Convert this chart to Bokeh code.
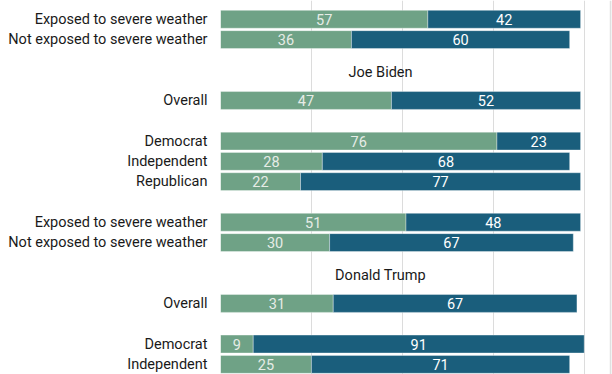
from bokeh.plotting import figure
from bokeh.models import ColumnDataSource, Range1d, FixedTicker, Span
from bokeh.core.properties import value
from bokeh.embed import file_html
from bokeh.resources import INLINE

# ---- data ----
row_labels = ["Exposed to severe weather", "Not exposed to severe weather",
              "Overall",
              "Democrat", "Independent", "Republican",
              "Exposed to severe weather", "Not exposed to severe weather",
              "Overall",
              "Democrat", "Independent"]
support = [57, 36, 47, 76, 28, 22, 51, 30, 31, 9, 25]
oppose = [42, 60, 52, 23, 68, 77, 48, 67, 67, 91, 71]
# group index of each row and whether a section header precedes the group
row_group = [0, 0, 1, 2, 2, 2, 3, 3, 4, 5, 5]
section_titles = ["Joe Biden", "Donald Trump"]
section_start_group = [1, 4]
grid_ticks = [0, 25, 50, 75, 100]

# ---- layout: slot for each row ----
slots = []
slot = 0
prev_g = row_group[0]
header_slots = []
for g in row_group:
    if g != prev_g:
        if g in section_start_group:
            slot += 2
            header_slots.append(slot - 1.4)
        else:
            slot += 1
        prev_g = g
    slots.append(slot)
    slot += 1

GREEN = "#6fa286"
BLUE = "#1a5e7c"

seg_src = ColumnDataSource(dict(
    y=slots + slots,
    left=[0] * len(support) + support,
    right=support + [s + o for s, o in zip(support, oppose)],
    color=[GREEN] * len(support) + [BLUE] * len(oppose),
))
lab_g = ColumnDataSource(dict(
    x=[s / 2 for s in support], y=slots, t=[str(v) for v in support]))
lab_b = ColumnDataSource(dict(
    x=[s + o / 2 for s, o in zip(support, oppose)], y=slots, t=[str(v) for v in oppose]))
hdr_src = ColumnDataSource(dict(x=[44] * len(section_titles), y=header_slots, t=section_titles))

W, H = 612, 374
p = figure(width=W, height=H, output_backend="svg", toolbar_location=None,
           x_range=Range1d(0, 107.5), y_range=Range1d(17.5, -0.926),
           min_border_left=220, min_border_right=1, min_border_top=0, min_border_bottom=0)
p.outline_line_color = None
p.background_fill_color = "white"

p.xaxis.visible = False
p.xgrid.ticker = FixedTicker(ticks=grid_ticks)
p.xgrid.grid_line_color = "#dcdcdc"
p.xgrid.grid_line_width = 1
p.ygrid.grid_line_color = None

yax = p.yaxis[0]
yax.ticker = FixedTicker(ticks=slots)
yax.major_label_overrides = {s: l for s, l in zip(slots, row_labels)}
yax.axis_line_color = None
yax.major_tick_line_color = None
yax.minor_tick_line_color = None
yax.major_tick_out = 0
yax.major_tick_in = 0
yax.major_label_standoff = 13
yax.major_label_text_font = "Roboto"
yax.major_label_text_font_size = "14.5px"
yax.major_label_text_color = "#1a1a1a"

p.hbar(y="y", left="left", right="right", height=0.88, source=seg_src,
       fill_color="color", line_color="white", line_alpha=0.35, line_width=1)

p.text(x="x", y="y", text="t", source=lab_g, text_align="center", text_baseline="middle",
       text_font=value("Roboto"), text_font_size="14.5px", text_color="#e6ece6")
p.text(x="x", y="y", text="t", source=lab_b, text_align="center", text_baseline="middle",
       text_font=value("Roboto"), text_font_size="14.5px", text_color="white")
p.text(x="x", y="y", text="t", source=hdr_src, text_align="center", text_baseline="middle",
       text_font=value("Roboto"), text_font_size="14.5px", text_color="#1a1a1a")

p.add_layout(Span(location=107.3, dimension="height", line_color="#e0e0e0", line_width=2))

open("out.html", "w").write(file_html(p, INLINE))
